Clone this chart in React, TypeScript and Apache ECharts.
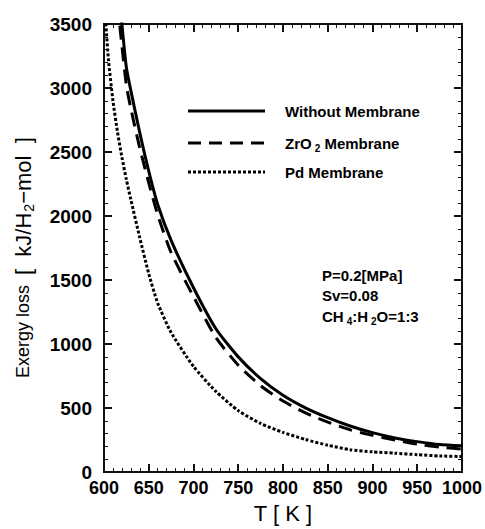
import React, { useEffect, useRef } from "react";
import * as echarts from "echarts";

// ---- data ----
const tempsMain = [610, 620, 625, 630, 640, 650, 660, 675, 700, 725, 750, 775, 800, 825, 850, 875, 900, 925, 950, 975, 1000];
const withoutMembrane = [4250, 3500, 3160, 2980, 2650, 2350, 2090, 1810, 1440, 1120, 900, 730, 600, 502, 425, 360, 308, 267, 238, 215, 205];
const zro2Membrane = [4000, 3330, 3020, 2840, 2530, 2260, 2010, 1715, 1370, 1052, 835, 675, 555, 463, 390, 330, 287, 251, 218, 195, 180];
const tempsPd = [600, 605, 610, 615, 620, 625, 630, 640, 650, 660, 675, 700, 725, 750, 775, 800, 825, 850, 875, 900, 925, 950, 975, 1000];
const pdMembrane = [3700, 3220, 2900, 2660, 2460, 2285, 2128, 1830, 1550, 1320, 1090, 825, 630, 480, 380, 310, 255, 210, 175, 158, 148, 136, 126, 122];

const seriesNames = ["Without Membrane", "ZrO2 Membrane", "Pd Membrane"];
const notes = ["P=0.2[MPa]", "Sv=0.08", "CH4:H2O=1:3"];

const FONT = "'Liberation Sans', Arial, Helvetica, sans-serif";
const AXIS_COLOR = "#111111";

const zip = (xs: number[], ys: number[]) => xs.map((x, i) => [x, ys[i]]);

const makeAxis = (isX: boolean, position: string, interval: number, tickLen: number, tickWidth: number, extra: any = {}) => ({
  type: "value",
  min: isX ? 600 : 0,
  max: isX ? 1000 : 3500,
  interval,
  position,
  axisLine: { show: true, onZero: false, lineStyle: { color: AXIS_COLOR, width: 2 } },
  axisTick: { show: true, inside: true, length: tickLen, lineStyle: { color: AXIS_COLOR, width: tickWidth } },
  axisLabel: { show: false },
  splitLine: { show: false },
  ...extra,
});

export default function App() {
  const ref = useRef<HTMLDivElement>(null);
  useEffect(() => {
    document.body.style.margin = "0";
    if (!ref.current) return;
    const chart = echarts.init(ref.current, undefined, { renderer: "svg" });

    const sub = { fontFamily: FONT, fontWeight: "bold", fontSize: 10, fill: "#000", padding: [10, 0, 0, 3] };
    const mainTxt = { fontFamily: FONT, fontWeight: "bold", fontSize: 15, fill: "#000" };
    const dashes: Record<string, any> = { "Without Membrane": null, "ZrO2 Membrane": [13, 8], "Pd Membrane": [3, 2] };
    const legendY = [111, 143, 172];
    const legendLabels: Record<string, string> = {
      "Without Membrane": "{a|Without Membrane}",
      "ZrO2 Membrane": "{a|ZrO}{s|2}{a| Membrane}",
      "Pd Membrane": "{a|Pd Membrane}",
    };

    const legendGraphics: any[] = [];
    seriesNames.forEach((name, i) => {
      legendGraphics.push({
        type: "line",
        shape: { x1: 188, y1: legendY[i], x2: 265, y2: legendY[i] },
        style: { stroke: "#000", lineWidth: 3, lineDash: dashes[name] || undefined },
      });
      legendGraphics.push({
        type: "text",
        x: 285,
        y: legendY[i],
        style: { text: legendLabels[name], verticalAlign: "middle", rich: { a: mainTxt, s: sub } },
      });
    });

    const option: any = {
      animation: false,
      grid: { left: 104, right: 20, top: 24, bottom: 56 },
      xAxis: [
        makeAxis(true, "bottom", 50, 8, 2, {
          name: "T [ K ]",
          nameLocation: "middle",
          nameGap: 28,
          nameTextStyle: { fontFamily: FONT, fontSize: 22, color: "#000" },
          axisLabel: {
            show: true,
            margin: 7,
            fontFamily: FONT,
            fontWeight: "bold",
            fontSize: 18,
            color: "#000",
            formatter: (v: number) => String(v),
          },
        }),
        makeAxis(true, "bottom", 10, 4, 1),
        makeAxis(true, "top", 50, 8, 2),
        makeAxis(true, "top", 10, 4, 1),
      ],
      yAxis: [
        makeAxis(false, "left", 500, 8, 2, {
          axisLabel: {
            show: true,
            margin: 12,
            fontFamily: FONT,
            fontWeight: "bold",
            fontSize: 19,
            color: "#000",
            formatter: (v: number) => String(v),
          },
        }),
        makeAxis(false, "left", 100, 4, 1),
        makeAxis(false, "right", 500, 8, 2),
        makeAxis(false, "right", 100, 4, 1),
      ],
      series: [
        {
          name: seriesNames[0],
          type: "line",
          xAxisIndex: 0,
          yAxisIndex: 0,
          data: zip(tempsMain, withoutMembrane),
          symbol: "none",
          smooth: 0.2,
          lineStyle: { color: "#000", width: 3, type: "solid" },
        },
        {
          name: seriesNames[1],
          type: "line",
          xAxisIndex: 0,
          yAxisIndex: 0,
          data: zip(tempsMain, zro2Membrane),
          symbol: "none",
          smooth: 0.2,
          lineStyle: { color: "#000", width: 3, type: [14, 8] },
        },
        {
          name: seriesNames[2],
          type: "line",
          xAxisIndex: 0,
          yAxisIndex: 0,
          data: zip(tempsPd, pdMembrane),
          symbol: "none",
          smooth: 0.2,
          lineStyle: { color: "#000", width: 3, type: [3, 2] },
        },
      ],
      graphic: [
        ...legendGraphics,
        {
          type: "text",
          x: 23,
          y: 378,
          rotation: Math.PI / 2,
          style: {
            text: "{e|Exergy loss  }{a|[  kJ/H}{s|2}{a|\u2212mol  ]}",
            align: "left",
            verticalAlign: "middle",
            rich: {
              e: { fontFamily: FONT, fontSize: 18, fill: "#000" },
              a: { fontFamily: FONT, fontSize: 22, fill: "#000" },
              s: { fontFamily: FONT, fontSize: 14, fill: "#000", padding: [12, 0, 0, 1] },
            },
          },
        },
        {
          type: "text",
          x: 322,
          y: 275,
          style: { text: "{a|" + notes[0] + "}", verticalAlign: "middle", rich: { a: mainTxt } },
        },
        {
          type: "text",
          x: 322,
          y: 295,
          style: { text: "{a|" + notes[1] + "}", verticalAlign: "middle", rich: { a: mainTxt } },
        },
        {
          type: "text",
          x: 322,
          y: 316,
          style: {
            text: "{a|CH}{s|4}{a|:H}{s|2}{a|O=1:3}",
            verticalAlign: "middle",
            rich: { a: mainTxt, s: sub },
          },
        },
      ],
    };
    chart.setOption(option);
    return () => chart.dispose();
  }, []);
  return <div ref={ref} style={{ width: 485, height: 529 }} />;
}
